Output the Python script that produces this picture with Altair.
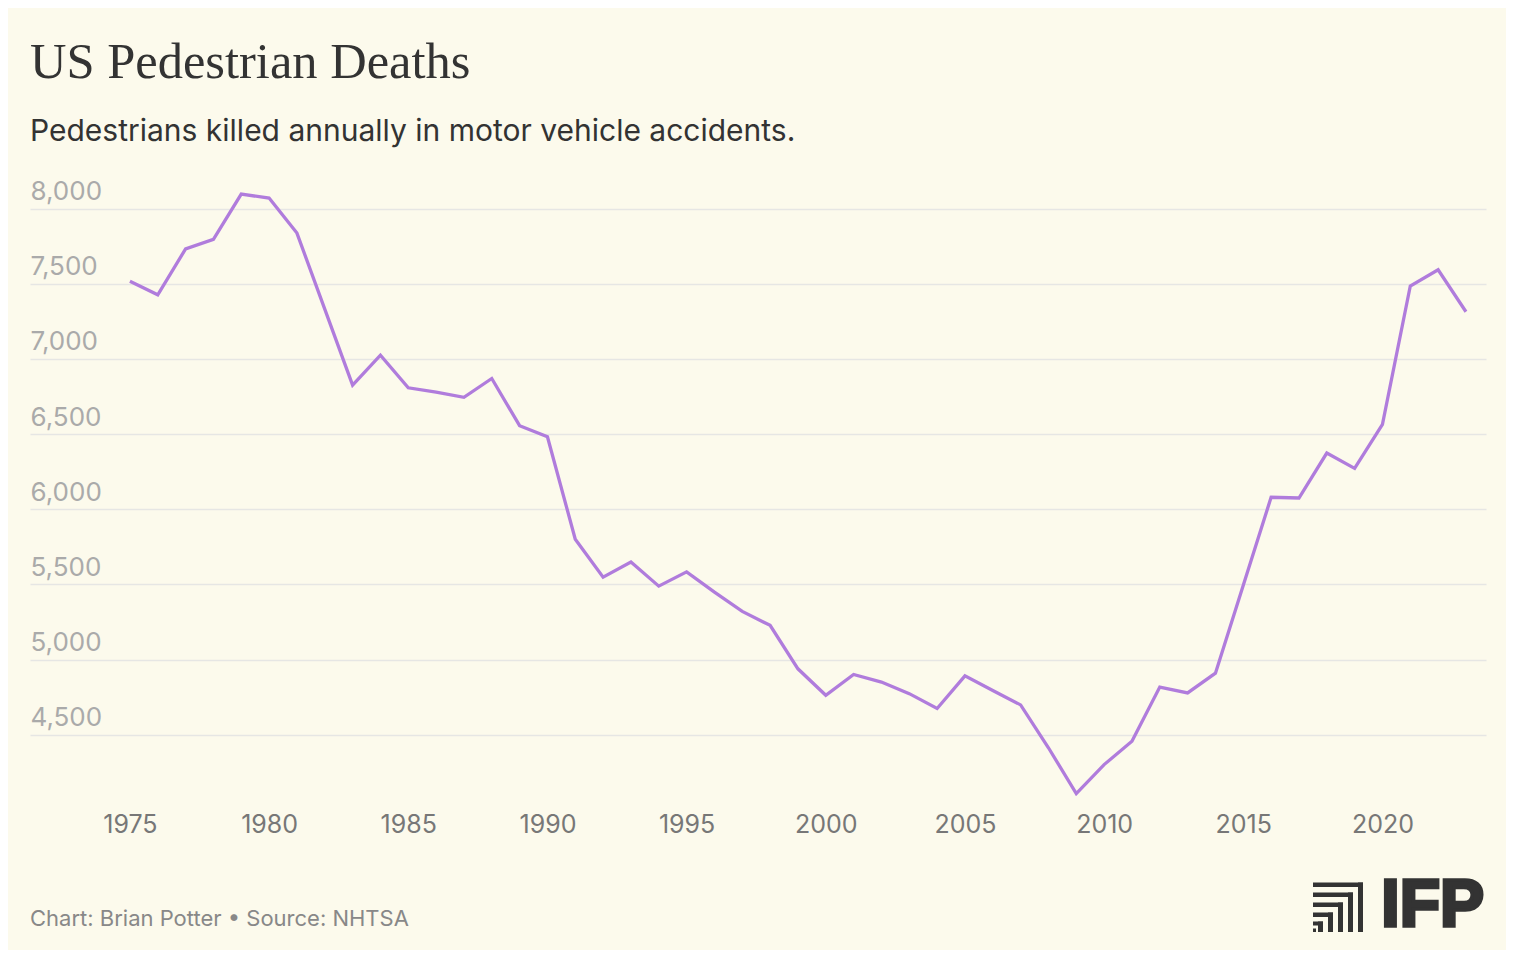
import pandas as pd
import altair as alt

# Annual pedestrian deaths (NHTSA)
years = list(range(1975, 2024))
deaths = [7516, 7427, 7732, 7795, 8096, 8070, 7837, 7331, 6826, 7025,
          6808, 6779, 6745, 6870, 6556, 6482, 5801, 5549, 5649, 5489,
          5584, 5449, 5321, 5228, 4939, 4763, 4901, 4851, 4774, 4675,
          4892, 4795, 4699, 4414, 4109, 4302, 4457, 4818, 4779, 4910,
          5494, 6080, 6075, 6374, 6272, 6565, 7485, 7593, 7314]
x_ticks = [1975, 1980, 1985, 1990, 1995, 2000, 2005, 2010, 2015, 2020]
y_ticks = [4500, 5000, 5500, 6000, 6500, 7000, 7500, 8000]

title = "US Pedestrian Deaths"
subtitle = "Pedestrians killed annually in motor vehicle accidents."
footer = "Chart: Brian Potter \u2022 Source: NHTSA"

df = pd.DataFrame({"year": years, "deaths": deaths})

BG = "#FCFAEC"
W, H = 1456, 639

line = alt.Chart(df).mark_line(color="#B07CDC", strokeWidth=3.3).encode(
    x=alt.X("year:Q",
            scale=alt.Scale(domain=[1971.41, 2023.72], nice=False, zero=False),
            axis=alt.Axis(values=x_ticks, format="d", title=None, grid=False,
                          domain=False, ticks=False, labelColor="#777777",
                          labelFont="Inter", labelFontSize=25, labelPadding=2)),
    y=alt.Y("deaths:Q",
            scale=alt.Scale(domain=[4000, 8250], nice=False, zero=False),
            axis=alt.Axis(values=y_ticks, format=",d", title=None, grid=True,
                          gridColor="#E6E6E4", gridWidth=1.5, domain=False,
                          ticks=False, labelAlign="left", labelBaseline="alphabetic",
                          labelPadding=0, labelOffset=-9, labelColor="#AAAAAA",
                          labelFont="Inter", labelFontSize=26)),
)

# footer credit
credit = alt.Chart(pd.DataFrame({"t": [footer]})).mark_text(
    align="left", baseline="middle", font="Inter", fontSize=22, color="#888888"
).encode(x=alt.value(0), y=alt.value(748), text="t:N")

# IFP logo: wordmark + stepped icon
wordmark = alt.Chart(pd.DataFrame({"t": ["IFP"]})).mark_text(
    align="right", baseline="middle", font="Liberation Sans", fontWeight="bold",
    fontSize=66, color="#333333", stroke="#333333", strokeWidth=3.5,
    strokeJoin="miter"
).encode(x=alt.value(W - 2), y=alt.value(735), text="t:N")

logo_x = [1313, 1358, 1313, 1348, 1313, 1338, 1313, 1328, 1313, 1318, 1313]
logo_x2 = [1363, 1363, 1353, 1353, 1343, 1343, 1333, 1333, 1323, 1323, 1316]
logo_y = [882.5, 882.5, 892.5, 892.5, 902.5, 902.5, 912.5, 912.5, 921.5, 921.5, 928.5]
logo_y2 = [887, 932, 897, 932, 907, 932, 917, 932, 925.5, 932, 932]
logo_df = pd.DataFrame({
    "x": [v - 30 for v in logo_x], "x2": [v - 30 for v in logo_x2],
    "y": [v - 171 for v in logo_y], "y2": [v - 171 for v in logo_y2],
})
icon = alt.Chart(logo_df).mark_rect(color="#333333").encode(
    x=alt.X("x:Q", scale=None, axis=None), x2="x2:Q",
    y=alt.Y("y:Q", scale=None, axis=None), y2="y2:Q",
)

chart = alt.layer(line, credit, wordmark, icon).resolve_scale(
    x="independent", y="independent"
).properties(
    width=W, height=H,
    autosize=alt.AutoSizeParams(type="none"),
    padding={"left": 22, "top": 163, "right": 20, "bottom": 140},
    background=BG,
    title=alt.TitleParams(
        text=title, subtitle=subtitle, anchor="start", frame="group",
        font="Liberation Serif", fontSize=50.5, fontWeight="normal", color="#333333",
        subtitleFont="Inter", subtitleFontSize=30, subtitleColor="#333333",
        subtitlePadding=29, offset=24,
    ),
).configure_view(stroke=None)

chart.save("out.html", embed_options={"renderer": "svg", "actions": False})
